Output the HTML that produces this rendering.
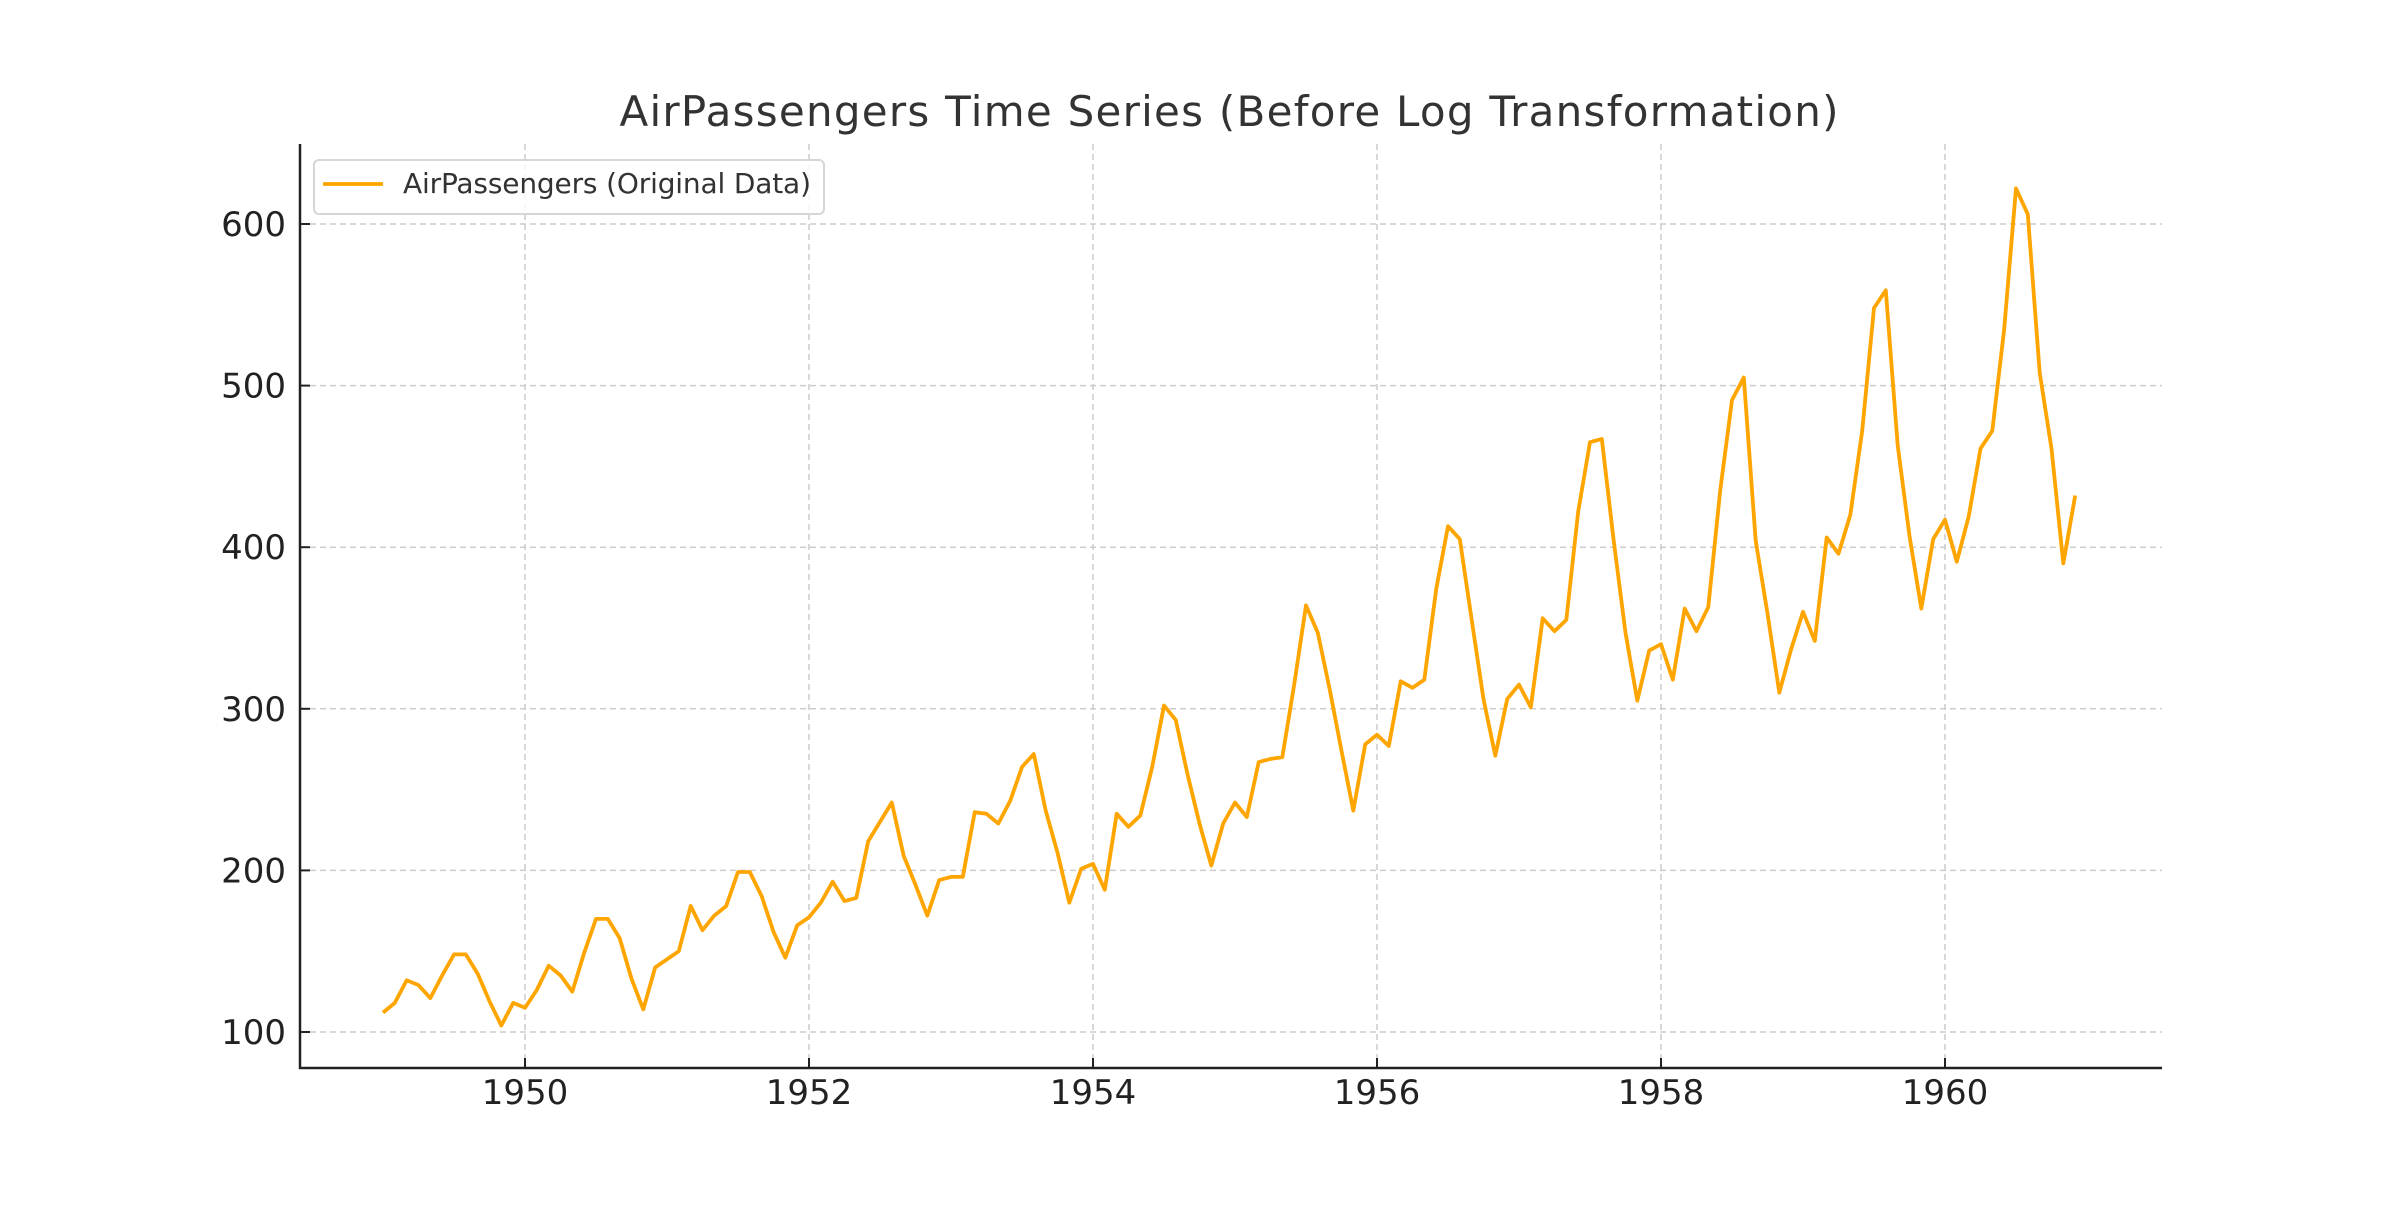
<!DOCTYPE html>
<html><head><meta charset="utf-8"><style>html,body{margin:0;padding:0;background:#fff}</style></head>
<body>
<svg id="s" width="2400" height="1200" xmlns="http://www.w3.org/2000/svg" font-family="DejaVu Sans, Liberation Sans, sans-serif">
<rect width="2400" height="1200" fill="#fff"/>
<g id="grid" stroke="#ccc" stroke-width="1.5" stroke-dasharray="6,4"></g>
<polyline id="line" fill="none" stroke="#FFA500" stroke-width="3.8" stroke-linejoin="round"/>
<g id="ticks" fill="#222" font-size="34"></g>
<line x1="300" y1="144" x2="300" y2="1069" stroke="#222" stroke-width="2.5"/>
<line x1="299" y1="1068" x2="2162" y2="1068" stroke="#222" stroke-width="2.5"/>
<text x="1229" y="126" text-anchor="middle" font-size="42" fill="#333" textLength="1219">AirPassengers Time Series (Before Log Transformation)</text>
<rect x="314" y="160" width="510" height="54" rx="5" fill="#fff" fill-opacity="0.8" stroke="#d6d6d6" stroke-width="2"/>
<line x1="323" y1="184" x2="383" y2="184" stroke="#FFA500" stroke-width="3.8"/>
<text x="403" y="193" font-size="28" fill="#333" textLength="408">AirPassengers (Original Data)</text>
</svg>
<script>
var d=[112,118,132,129,121,135,148,148,136,119,104,118,115,126,141,135,125,149,170,170,158,133,114,140,145,150,178,163,172,178,199,199,184,162,146,166,171,180,193,181,183,218,230,242,209,191,172,194,196,196,236,235,229,243,264,272,237,211,180,201,204,188,235,227,234,264,302,293,259,229,203,229,242,233,267,269,270,315,364,347,312,274,237,278,284,277,317,313,318,374,413,405,355,306,271,306,315,301,356,348,355,422,465,467,404,347,305,336,340,318,362,348,363,435,491,505,404,359,310,337,360,342,406,396,420,472,548,559,463,407,362,405,417,391,419,461,472,535,622,606,508,461,390,432];
function X(t){return 525+(t-1950)*142}
function Y(v){return 1032-(v-100)*1.616}
var p=d.map(function(v,i){return X(1949+i/12).toFixed(1)+","+Y(v).toFixed(1)}).join(" ");
document.getElementById("line").setAttribute("points",p);
var g="",tk="";
for(var y=1950;y<=1960;y+=2){var x=X(y);g+='<line x1="'+x+'" y1="144" x2="'+x+'" y2="1068"/>';tk+='<line x1="'+x+'" y1="1068" x2="'+x+'" y2="1058" stroke="#222" stroke-width="2"/><text x="'+x+'" y="1104" text-anchor="middle">'+y+'</text>';}
for(var v=100;v<=600;v+=100){var yy=Y(v);g+='<line x1="300" y1="'+yy+'" x2="2162" y2="'+yy+'"/>';tk+='<line x1="300" y1="'+yy+'" x2="310" y2="'+yy+'" stroke="#222" stroke-width="2"/><text x="286" y="'+(yy+12)+'" text-anchor="end">'+v+'</text>';}
document.getElementById("grid").innerHTML=g;
document.getElementById("ticks").innerHTML=tk;
</script>
</body></html>
